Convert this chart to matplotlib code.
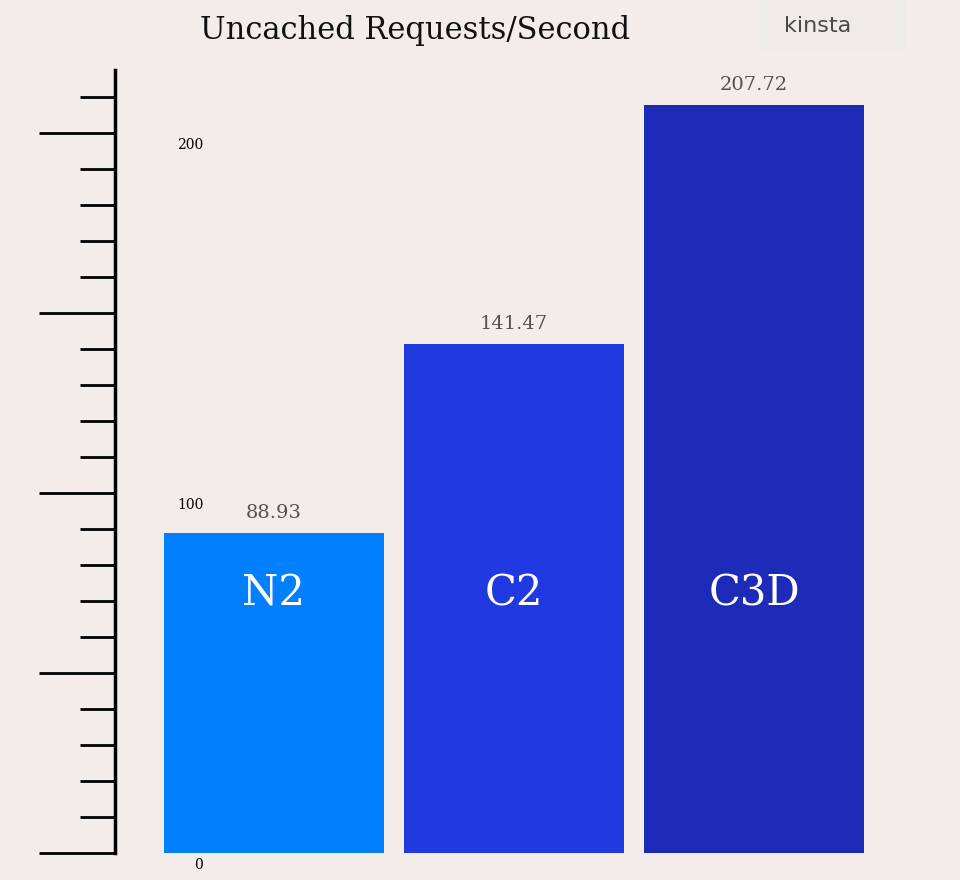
import matplotlib
matplotlib.use("Agg")
import matplotlib.pyplot as plt
import numpy as np

# data
labels = ["N2", "C2", "C3D"]
values = [88.93, 141.47, 207.72]
colors = ["#0080FF", "#2139E0", "#1E2BB8"]
major_ticks = [0, 50, 100, 150, 200]
minor_ticks = [v for v in range(0, 220, 10) if v % 50 != 0]
tick_labels = {0: "0", 100: "100", 200: "200"}

bg = "#F3ECE9"
fig = plt.figure(figsize=(9.6, 8.8), dpi=100, facecolor=bg)
ax = fig.add_axes([115 / 960, 27 / 880, 765 / 960, 783 / 880])
ax.set_facecolor(bg)
ax.set_xlim(-0.6625, 2.525)
ax.set_ylim(0, 217.5)

x = np.arange(len(values))
ax.bar(x, values, width=0.917, color=colors)
for xi, v, name in zip(x, values, labels):
    ax.text(xi, v + 3, f"{v:.2f}", ha="center", va="bottom", family="DejaVu Serif",
            fontsize=14, color="#555050")
    ax.text(xi, 72, name, ha="center", va="center", family="DejaVu Serif",
            fontsize=30, color="white")

for s in ["top", "right", "bottom"]:
    ax.spines[s].set_visible(False)
ax.spines["left"].set_linewidth(2.5)
ax.spines["left"].set_bounds(0, 217.5)
ax.set_xticks([])
ax.set_yticks(major_ticks)
ax.set_yticks(minor_ticks, minor=True)
ax.set_yticklabels([])
ax.tick_params(axis="y", which="major", length=55, width=2)
ax.tick_params(axis="y", which="minor", length=25, width=2)
for v, t in tick_labels.items():
    ax.text(-0.295, v - 1.5, t, ha="right", va="top", family="DejaVu Serif",
            fontsize=10, transform=ax.transData)

fig.text(415 / 960, 1 - 30 / 880, "Uncached Requests/Second", ha="center", va="center",
         family="DejaVu Serif", fontsize=22, color="#111111")
fig.patches.append(plt.Rectangle((760 / 960, 1 - 48 / 880), 145 / 960, 48 / 880,
                                 transform=fig.transFigure, color="#EFEBE6", zorder=0))
fig.text(818 / 960, 1 - 26 / 880, "kinsta", ha="center", va="center",
         family="DejaVu Sans", fontsize=16, color="#4a4a4a")

fig.savefig("out.png", dpi=100, facecolor=bg)
